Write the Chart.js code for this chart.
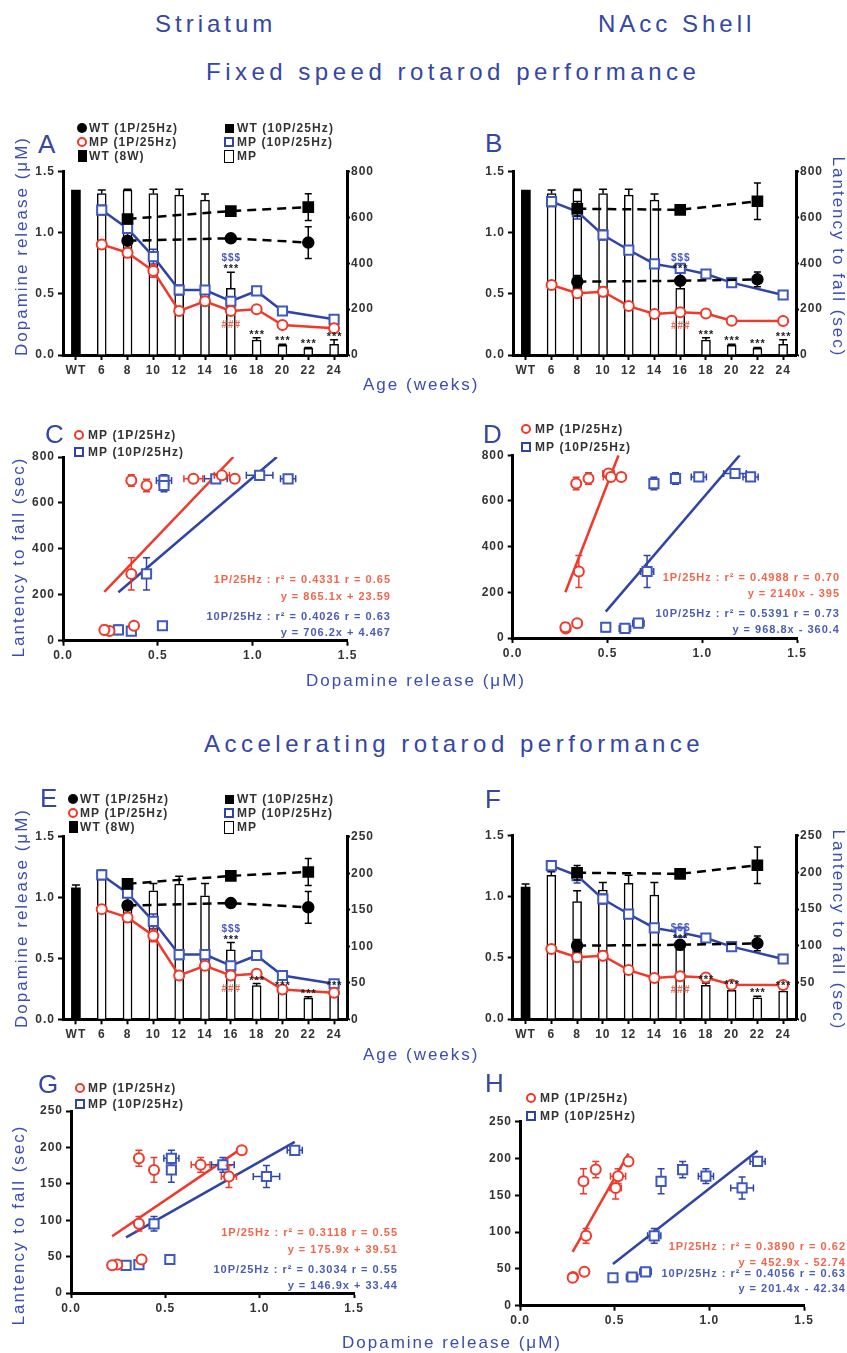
<!DOCTYPE html>
<html><head><meta charset="utf-8"><title>Dopamine release and rotarod performance</title>
<script src="https://cdn.jsdelivr.net/npm/chart.js@4.4.1/dist/chart.umd.min.js"></script>
<style>
html,body{margin:0;padding:0;background:#fff;}
body{position:relative;width:847px;height:1353px;overflow:hidden;font-family:'Liberation Sans',Arial,sans-serif;}
.t{position:absolute;white-space:nowrap;}
.box{position:absolute;}
.mk{position:absolute;box-sizing:border-box;}
canvas{display:block;}
</style></head><body>
<script>
// ================= DATA =================
const weeks = ['WT','6','8','10','12','14','16','18','20','22','24'];

// Striatum dopamine release (µM)
const strWT1P     = [null,null,0.935,null,null,null,0.955,null,null,0.92,null];
const strWT1PErr  = [null,null,0.02,null,null,null,0.03,null,null,0.13,null];
const strWT10P    = [null,null,1.113,null,null,null,1.178,null,null,1.21,null];
const strWT10PErr = [null,null,0.02,null,null,null,0.015,null,null,0.11,null];
const strMP1P     = [null,0.905,0.837,0.687,0.36,0.44,0.36,0.374,0.245,null,0.218];
const strMP1PErr  = [null,0.02,0.04,0.05,0.02,0.02,0.02,0.02,0.02,null,0.015];
const strMP10P    = [null,1.186,1.036,0.805,0.532,0.532,0.44,0.524,0.36,null,0.292];
const strMP10PErr = [null,0.04,0.07,0.06,0.04,0.02,0.02,0.015,0.02,null,0.01];

// NAcc shell dopamine release (µM)
const nacWT1P     = [null,null,0.60,null,null,null,0.607,null,null,0.619,null];
const nacWT1PErr  = [null,null,0.05,null,null,null,0.02,null,null,0.06,null];
const nacWT10P    = [null,null,1.197,null,null,null,1.188,null,null,1.258,null];
const nacWT10PErr = [null,null,0.06,null,null,null,0.015,null,null,0.15,null];
const nacMP1P     = [null,0.573,0.505,0.518,0.40,0.335,0.349,0.34,0.28,null,0.278];
const nacMP1PErr  = [null,0.02,0.03,0.04,0.02,0.015,0.015,0.015,0.01,null,0.01];
const nacMP10P    = [null,1.255,1.173,0.982,0.859,0.745,0.709,0.663,0.592,null,0.491];
const nacMP10PErr = [null,0.04,0.06,0.04,0.02,0.015,0.035,0.03,0.03,null,0.01];

// Latency to fall (sec)
const wtFixedLatency = 720, wtFixedLatencyErr = 0;
const latFixedMP    = [null,705,720,705,698,676,291,65,42,29,47];
const latFixedMPErr = [null,15,3,18,25,27,70,10,5,4,20];
const wtAccelLatency = 180, wtAccelLatencyErr = 4;
const latAccelMP    = [null,196,160,176,185,169,95,46,39,29,38];
const latAccelMPErr = [null,5,15,10,11,17,10,3,3,2,3];

// significance marks
const starWeeks   = ['16','18','20','22','24'];
const dollarWeeks = ['16'];
const hashWeeks   = ['16'];

// linear regressions, order: C, D, G, H
const regSlope1P   = [865.1, 2140, 175.9, 452.9];
const regInter1P   = [23.59, -395, 39.51, -52.74];
const regR2_1P     = [0.4331, 0.4988, 0.3118, 0.3890];
const regR_1P      = [0.65, 0.70, 0.55, 0.62];
const regSlope10P  = [706.2, 968.8, 146.9, 201.4];
const regInter10P  = [4.467, -360.4, 33.44, -42.34];
const regR2_10P    = [0.4026, 0.5391, 0.3034, 0.4056];
const regR_10P     = [0.63, 0.73, 0.55, 0.63];

// ================= STYLE =================
const RED = '#f0392b', BLUE = '#2f44a5';
const TITLE = '#3446a6', AXT = '#3a4db0';
const REDTXT = '#f2664c', BLUETXT = '#4b5db5';
const FONT = "'Liberation Sans', Arial, sans-serif";
Chart.defaults.font.family = FONT;
Chart.defaults.color = '#333';

function addText(str, x, baseline, size, o) {
  o = o || {};
  const d = document.createElement('div');
  d.className = 't';
  d.textContent = str;
  d.style.fontSize = size + 'px';
  d.style.lineHeight = size + 'px';
  d.style.top = (baseline - 0.8465 * size) + 'px';
  const ls = o.ls || 0;
  d.style.letterSpacing = ls + 'px';
  d.style.color = o.color || TITLE;
  if (o.weight) d.style.fontWeight = o.weight;
  if (o.align === 'right') d.style.right = (847 - x - ls) + 'px';
  else d.style.left = x + 'px';
  document.body.appendChild(d);
}
function addRot(str, cx, cy, size, deg, o) {
  o = o || {};
  const d = document.createElement('div');
  d.className = 't';
  d.textContent = str;
  d.style.fontSize = size + 'px';
  d.style.lineHeight = size + 'px';
  d.style.letterSpacing = (o.ls || 0) + 'px';
  d.style.color = o.color || AXT;
  d.style.left = cx + 'px';
  d.style.top = cy + 'px';
  d.style.transform = 'translate(-50%,-50%) rotate(' + deg + 'deg)';
  document.body.appendChild(d);
}
function marker(type, cx, cy) {
  const d = document.createElement('div');
  d.className = 'mk';
  let w = 10, h = 10;
  if (type === 'dot') { d.style.background = '#000'; d.style.borderRadius = '50%'; }
  else if (type === 'sq') { w = h = 9; d.style.background = '#000'; }
  else if (type === 'ocirc') { d.style.border = '2px solid ' + RED; d.style.borderRadius = '50%'; }
  else if (type === 'osq') { d.style.border = '2px solid ' + BLUE; }
  else if (type === 'bar') { w = 9; h = 12; d.style.background = '#000'; }
  else if (type === 'obar') { w = 10; h = 13; d.style.border = '1.5px solid #000'; }
  d.style.width = w + 'px'; d.style.height = h + 'px';
  d.style.left = (cx - w / 2) + 'px'; d.style.top = (cy - h / 2) + 'px';
  document.body.appendChild(d);
}
function legendRow(type, mx, tx, cy, label) {
  marker(type, mx, cy);
  addText(label, tx, cy + 4.3, 12, {color: '#333', weight: 'bold', ls: 1.1});
}

function mkCanvas(x, y, w, h) {
  const div = document.createElement('div');
  div.className = 'box';
  div.style.left = x + 'px'; div.style.top = y + 'px';
  div.style.width = w + 'px'; div.style.height = h + 'px';
  const c = document.createElement('canvas');
  c.width = w; c.height = h;
  c.style.width = w + 'px'; c.style.height = h + 'px';
  div.appendChild(c);
  document.body.appendChild(div);
  return c;
}

// ================= PLUGINS =================
const spacingPlugin = {
  id: 'spacing',
  beforeLayout(chart) { chart.ctx.letterSpacing = '1px'; },
  beforeDraw(chart) { chart.ctx.letterSpacing = '1px'; }
};
function drawErrors(chart, idx, after) {
  const ds = chart.data.datasets[idx];
  if (!ds.errMode) return;
  if ((ds.errMode === 'up') !== after) return;
  const meta = chart.getDatasetMeta(idx);
  const xs = chart.scales[meta.xAxisID], ys = chart.scales[meta.yAxisID];
  const ctx = chart.ctx;
  ctx.save();
  ctx.strokeStyle = ds.errColor || '#000';
  ctx.lineWidth = ds.errWidth || 1.5;
  const cap = ds.errCap || 3.5;
  meta.data.forEach((el, i) => {
    const raw = ds.data[i];
    if (raw === null || raw === undefined) return;
    let v, e, xv = 0, xe = 0;
    if (typeof raw === 'object') { v = raw.y; e = raw.ey || 0; xv = raw.x; xe = raw.ex || 0; }
    else { v = raw; e = ds.errs ? (ds.errs[i] || 0) : 0; }
    const px = el.x, py = el.y;
    ctx.beginPath();
    if (e > 0) {
      const top = ys.getPixelForValue(v + e);
      const bot = ds.errMode === 'up' ? ys.getPixelForValue(v) : ys.getPixelForValue(v - e);
      ctx.moveTo(px, bot); ctx.lineTo(px, top);
      ctx.moveTo(px - cap, top); ctx.lineTo(px + cap, top);
      if (ds.errMode !== 'up') { ctx.moveTo(px - cap, bot); ctx.lineTo(px + cap, bot); }
    }
    if (xe > 0) {
      const l = xs.getPixelForValue(xv - xe), r = xs.getPixelForValue(xv + xe);
      ctx.moveTo(l, py); ctx.lineTo(r, py);
      ctx.moveTo(l, py - cap); ctx.lineTo(l, py + cap);
      ctx.moveTo(r, py - cap); ctx.lineTo(r, py + cap);
    }
    ctx.stroke();
  });
  ctx.restore();
}
const errPlugin = {
  id: 'errbars',
  beforeDatasetDraw(chart, args) { drawErrors(chart, args.index, false); },
  afterDatasetDraw(chart, args) { drawErrors(chart, args.index, true); }
};
const sigPlugin = {
  id: 'sig',
  afterDatasetsDraw(chart, args, o) {
    if (!o || !o.stars) return;
    const ctx = chart.ctx, y1 = chart.scales.y1, y = chart.scales.y;
    const barDs = chart.data.datasets[o.barIdx], barMeta = chart.getDatasetMeta(o.barIdx);
    const redDs = chart.data.datasets[o.redIdx], redMeta = chart.getDatasetMeta(o.redIdx);
    ctx.save();
    ctx.textAlign = 'center';
    ctx.textBaseline = 'alphabetic';
    ctx.letterSpacing = '1px';
    ctx.font = 'bold 11px ' + FONT;
    const topOf = w => { const i = weeks.indexOf(w); return [barMeta.data[i].x, y1.getPixelForValue(barDs.data[i] + (barDs.errs[i] || 0))]; };
    ctx.fillStyle = '#222';
    o.stars.forEach(w => { const [x, t] = topOf(w); ctx.fillText('***', x + 0.5, t); });
    ctx.font = 'bold 10px ' + FONT;
    ctx.fillStyle = '#4a5cc0';
    o.dollars.forEach(w => { const [x, t] = topOf(w); ctx.fillText('$$$', x + 0.5, t - 11); });
    ctx.fillStyle = '#f2664c';
    o.hashes.forEach(w => { const i = weeks.indexOf(w); ctx.fillText('###', redMeta.data[i].x + 0.5, redMeta.data[i].y + 17); });
    ctx.restore();
  }
};

function axisBase(extra) {
  const a = {
    grid: {display: true, drawOnChartArea: false, drawTicks: true, tickLength: 5, tickWidth: 2, tickColor: '#000', color: '#000', offset: false},
    border: {display: true, color: '#000', width: 3},
    ticks: {color: '#333', font: {size: 12, weight: 'bold', family: FONT}, padding: 3, autoSkip: false, maxRotation: 0}
  };
  return Object.assign(a, extra);
}

// ================= PANELS =================
function dualPanel(box, area, dop, lat, latErr, wtLat, wtLatErr, latMax, latStep) {
  const [bx, by, bw, bh] = box;
  const c = mkCanvas(bx, by, bw, bh);
  const leftW = area.l - bx, rightW = bx + bw - area.r, padTop = area.t - by, xH = by + bh - area.b;
  const wtBar = weeks.map((w, i) => i === 0 ? wtLat : null);
  const wtBarErr = weeks.map((w, i) => i === 0 ? wtLatErr : null);
  new Chart(c, {
    type: 'bar',
    data: {
      labels: weeks,
      datasets: [
        {type: 'line', label: 'WT (1P/25Hz)', data: dop[0], errs: dop[1], errMode: 'both', errColor: '#000', yAxisID: 'y',
         borderColor: '#000', borderWidth: 2.5, borderDash: [9, 6], pointStyle: 'circle', pointRadius: 5,
         pointBackgroundColor: '#000', pointBorderColor: '#000', spanGaps: true, tension: 0, order: 1},
        {type: 'line', label: 'WT (10P/25Hz)', data: dop[2], errs: dop[3], errMode: 'both', errColor: '#000', yAxisID: 'y',
         borderColor: '#000', borderWidth: 2.5, borderDash: [9, 6], pointStyle: 'rect', pointRadius: 6.5,
         pointBackgroundColor: '#000', pointBorderColor: '#000', spanGaps: true, tension: 0, order: 1},
        {type: 'line', label: 'MP (1P/25Hz)', data: dop[4], errs: dop[5], errMode: 'both', errColor: RED, yAxisID: 'y',
         borderColor: RED, borderWidth: 2.5, pointStyle: 'circle', pointRadius: 5, pointBorderWidth: 2,
         pointBackgroundColor: '#fff', pointBorderColor: RED, spanGaps: true, tension: 0, order: 2},
        {type: 'line', label: 'MP (10P/25Hz)', data: dop[6], errs: dop[7], errMode: 'both', errColor: BLUE, yAxisID: 'y',
         borderColor: BLUE, borderWidth: 2.5, pointStyle: 'rect', pointRadius: 6.5, pointBorderWidth: 2,
         pointBackgroundColor: '#fff', pointBorderColor: '#3f58c0', spanGaps: true, tension: 0, order: 2},
        {type: 'bar', label: 'WT (8W)', data: wtBar, errs: wtBarErr, errMode: 'up', errCap: 4, yAxisID: 'y1',
         backgroundColor: '#000', barThickness: 9, grouped: false, order: 5},
        {type: 'bar', label: 'MP', data: lat, errs: latErr, errMode: 'up', errCap: 4, yAxisID: 'y1',
         backgroundColor: '#fff', borderColor: '#000', borderWidth: 1.5, barThickness: 9, grouped: false, order: 5}
      ]
    },
    options: {
      responsive: false, animation: false, devicePixelRatio: 1, events: [],
      layout: {padding: {top: padTop, left: 0, right: 0, bottom: 0}, autoPadding: false},
      plugins: {legend: {display: false}, tooltip: {enabled: false},
        sig: {barIdx: 5, redIdx: 2, stars: starWeeks, dollars: dollarWeeks, hashes: hashWeeks}},
      scales: {
        x: axisBase({type: 'category', offset: true, afterFit: s => { s.height = xH; }}),
        y: axisBase({type: 'linear', position: 'left', min: 0, max: 1.5,
          ticks: {stepSize: 0.5, color: '#333', font: {size: 12, weight: 'bold', family: FONT}, padding: 3, callback: v => v.toFixed(1)},
          afterFit: s => { s.width = leftW; }}),
        y1: axisBase({type: 'linear', position: 'right', min: 0, max: latMax,
          grid: {display: true, drawOnChartArea: false, drawTicks: true, tickLength: 3, tickWidth: 2, tickColor: '#000', color: '#000'},
          ticks: {stepSize: latStep, color: '#333', font: {size: 12, weight: 'bold', family: FONT}, padding: 1},
          afterFit: s => { s.width = rightW; }})
      }
    },
    plugins: [spacingPlugin, errPlugin, sigPlugin]
  });
}

function pairs(dop, dopErr, lat, latErr) {
  const out = [];
  for (let i = 0; i < weeks.length; i++) {
    if (dop[i] != null && lat[i] != null) out.push({x: dop[i], y: lat[i], ex: dopErr[i], ey: latErr[i]});
  }
  return out;
}
function regLine(pts, m, b, ymax) {
  const xs = pts.map(p => p.x);
  let x0 = Math.min(...xs), x1 = Math.max(...xs);
  if (m * x1 + b > ymax) x1 = (ymax - b) / m;
  return [{x: x0, y: m * x0 + b}, {x: x1, y: m * x1 + b}];
}

function scatterPanel(box, area, red, blue, k, yMax, yStep) {
  const [bx, by, bw, bh] = box;
  const c = mkCanvas(bx, by, bw, bh);
  const leftW = area.l - bx, padRight = bx + bw - area.r, padTop = area.t - by, xH = by + bh - area.b;
  new Chart(c, {
    type: 'scatter',
    data: {
      datasets: [
        {label: 'MP (1P/25Hz)', data: red, errMode: 'xy', errColor: RED, pointStyle: 'circle', pointRadius: 5,
         pointBorderWidth: 2, pointBackgroundColor: '#fff', pointBorderColor: RED, order: 1},
        {label: 'MP (10P/25Hz)', data: blue, errMode: 'xy', errColor: BLUE, pointStyle: 'rect', pointRadius: 6.5,
         pointBorderWidth: 2, pointBackgroundColor: '#fff', pointBorderColor: '#3f58c0', order: 1},
        {label: 'fit 1P', data: regLine(red, regSlope1P[k], regInter1P[k], yMax), showLine: true, pointRadius: 0,
         borderColor: RED, borderWidth: 2.5, order: 2},
        {label: 'fit 10P', data: regLine(blue, regSlope10P[k], regInter10P[k], yMax), showLine: true, pointRadius: 0,
         borderColor: BLUE, borderWidth: 2.5, order: 2}
      ]
    },
    options: {
      responsive: false, animation: false, devicePixelRatio: 1, events: [],
      layout: {padding: {top: padTop, left: 0, right: padRight, bottom: 0}, autoPadding: false},
      plugins: {legend: {display: false}, tooltip: {enabled: false}},
      scales: {
        x: axisBase({type: 'linear', min: 0, max: 1.5,
          ticks: {stepSize: 0.5, color: '#333', font: {size: 12, weight: 'bold', family: FONT}, padding: 3, callback: v => v.toFixed(1)},
          afterFit: s => { s.height = xH; }}),
        y: axisBase({type: 'linear', position: 'left', min: 0, max: yMax,
          ticks: {stepSize: yStep, color: '#333', font: {size: 12, weight: 'bold', family: FONT}, padding: 3},
          afterFit: s => { s.width = leftW; }})
      }
    },
    plugins: [spacingPlugin, errPlugin]
  });
}
function regText(k, rightX, bls) {
  const eq = (m, b) => 'y = ' + m + 'x ' + (b < 0 ? '-' : '+') + ' ' + Math.abs(b);
  const o1 = {align: 'right', color: REDTXT, weight: 'bold', ls: 1};
  const o2 = {align: 'right', color: BLUETXT, weight: 'bold', ls: 1};
  addText('1P/25Hz : r² = ' + regR2_1P[k].toFixed(4) + ' r = ' + regR_1P[k].toFixed(2), rightX, bls[0], 11, o1);
  addText(eq(regSlope1P[k], regInter1P[k]), rightX, bls[1], 11, o1);
  addText('10P/25Hz : r² = ' + regR2_10P[k].toFixed(4) + ' r = ' + regR_10P[k].toFixed(2), rightX, bls[2], 11, o2);
  addText(eq(regSlope10P[k], regInter10P[k]), rightX, bls[3], 11, o2);
}

// ---- build panels ----
const strSet = [strWT1P, strWT1PErr, strWT10P, strWT10PErr, strMP1P, strMP1PErr, strMP10P, strMP10PErr];
const nacSet = [nacWT1P, nacWT1PErr, nacWT10P, nacWT10PErr, nacMP1P, nacMP1PErr, nacMP10P, nacMP10PErr];

dualPanel([0, 160, 420, 230], {l: 63, r: 347, t: 171.7, b: 355}, strSet, latFixedMP, latFixedMPErr, wtFixedLatency, wtFixedLatencyErr, 800, 200);
dualPanel([430, 160, 417, 230], {l: 513, r: 796, t: 171.7, b: 355}, nacSet, latFixedMP, latFixedMPErr, wtFixedLatency, wtFixedLatencyErr, 800, 200);
dualPanel([0, 825, 420, 230], {l: 63, r: 347, t: 836.7, b: 1019.3}, strSet, latAccelMP, latAccelMPErr, wtAccelLatency, wtAccelLatencyErr, 250, 50);
dualPanel([430, 825, 417, 230], {l: 512.7, r: 796, t: 835.7, b: 1019}, nacSet, latAccelMP, latAccelMPErr, wtAccelLatency, wtAccelLatencyErr, 250, 50);

scatterPanel([0, 445, 420, 230], {l: 63, r: 347.7, t: 457, b: 640.7},
  pairs(strMP1P, strMP1PErr, latFixedMP, latFixedMPErr), pairs(strMP10P, strMP10PErr, latFixedMP, latFixedMPErr), 0, 800, 200);
scatterPanel([430, 445, 417, 230], {l: 512.7, r: 797, t: 455, b: 638},
  pairs(nacMP1P, nacMP1PErr, latFixedMP, latFixedMPErr), pairs(nacMP10P, nacMP10PErr, latFixedMP, latFixedMPErr), 1, 800, 200);
scatterPanel([0, 1100, 420, 230], {l: 71, r: 354, t: 1111, b: 1293},
  pairs(strMP1P, strMP1PErr, latAccelMP, latAccelMPErr), pairs(strMP10P, strMP10PErr, latAccelMP, latAccelMPErr), 2, 250, 50);
scatterPanel([430, 1110, 417, 230], {l: 520, r: 804, t: 1121.7, b: 1305.7},
  pairs(nacMP1P, nacMP1PErr, latAccelMP, latAccelMPErr), pairs(nacMP10P, nacMP10PErr, latAccelMP, latAccelMPErr), 3, 250, 50);

// ---- texts ----
addText('Striatum', 155, 32, 24, {ls: 4});
addText('NAcc Shell', 598, 32, 24, {ls: 4});
addText('Fixed speed rotarod performance', 206, 80, 24, {ls: 4.5});
addText('Accelerating rotarod performance', 204, 752, 24, {ls: 4.5});

[['A', 38, 153], ['B', 485, 152], ['C', 45, 443], ['D', 483, 443],
 ['E', 40, 807], ['F', 485, 808], ['G', 38, 1093], ['H', 485, 1092]].forEach(([s, x, y]) => addText(s, x, y, 26, {color: TITLE}));

addText('Age (weeks)', 363, 390, 17, {ls: 2, color: AXT});
addText('Dopamine release (μM)', 306, 686, 17, {ls: 2, color: AXT});
addText('Age (weeks)', 363, 1060, 17, {ls: 2, color: AXT});
addText('Dopamine release (μM)', 342, 1348, 17, {ls: 2, color: AXT});

addRot('Dopamine release (μM)', 21, 246, 17, -90, {ls: 2});
addRot('Dopamine release (μM)', 21, 918, 17, -90, {ls: 2});
addRot('Lantency to fall (sec)', 838, 257, 17, 90, {ls: 2});
addRot('Lantency to fall (sec)', 838, 930, 17, 90, {ls: 2});
addRot('Lantency to fall (sec)', 18, 557, 17, -90, {ls: 2});
addRot('Lantency to fall (sec)', 18, 1225, 17, -90, {ls: 2});

// legends
function fullLegend(m1, t1, m2, t2, rows) {
  legendRow('dot', m1, t1, rows[0], 'WT (1P/25Hz)');
  legendRow('ocirc', m1, t1, rows[1], 'MP (1P/25Hz)');
  legendRow('bar', m1, t1, rows[2], 'WT (8W)');
  legendRow('sq', m2, t2, rows[0], 'WT (10P/25Hz)');
  legendRow('osq', m2, t2, rows[1], 'MP (10P/25Hz)');
  legendRow('obar', m2, t2, rows[2], 'MP');
}
fullLegend(82, 89, 229, 237, [128, 142, 156]);
fullLegend(73, 80, 229, 237, [799, 813, 827]);
function mpLegend(m, t, rows) {
  legendRow('ocirc', m, t, rows[0], 'MP (1P/25Hz)');
  legendRow('osq', m, t, rows[1], 'MP (10P/25Hz)');
}
mpLegend(79, 88, [435, 452]);
mpLegend(526, 535, [429, 447]);
mpLegend(80, 88, [1088, 1104]);
mpLegend(531, 540, [1098, 1116]);

regText(0, 390, [583, 600, 620, 636]);
regText(1, 839, [581, 597, 617, 633]);
regText(2, 397, [1236, 1253, 1273, 1289]);
regText(3, 845, [1250, 1266, 1277, 1292]);
</script>
</body></html>
